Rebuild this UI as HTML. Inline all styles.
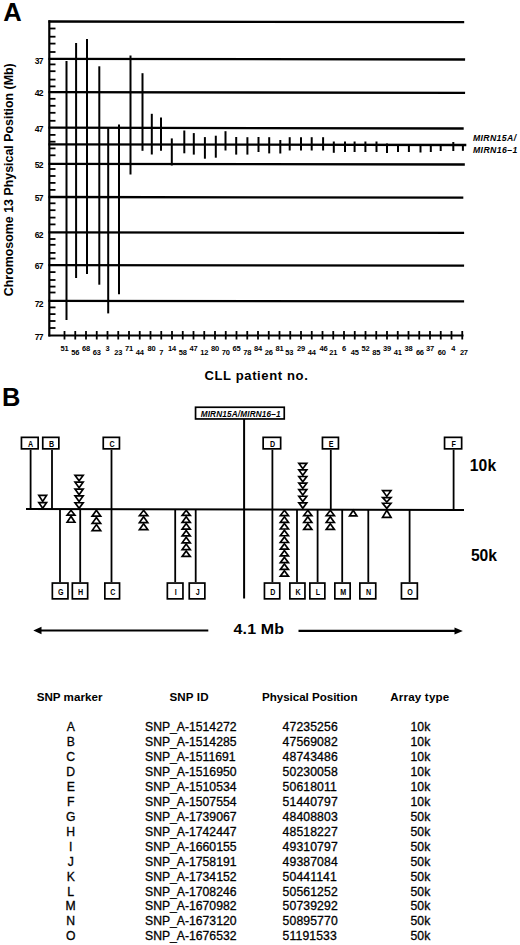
<!DOCTYPE html>
<html><head><meta charset="utf-8"><title>Figure</title>
<style>
html,body{margin:0;padding:0;background:#fff;}
body{width:520px;height:945px;overflow:hidden;}
svg{display:block;font-family:"Liberation Sans",sans-serif;}
.rt{stroke:#000;stroke-width:0.3px;}
</style></head>
<body>
<svg width="520" height="945" viewBox="0 0 520 945" fill="#000" stroke="#000">
<g stroke="none">
</g>
<g>
<text stroke="none" x="3.2" y="20.65" font-size="25.57" font-weight="bold" font-style="normal" letter-spacing="0" >A</text>
<line x1="48.5" y1="21.5" x2="464.2" y2="22.2" stroke-width="2.3"/>
<line x1="48.5" y1="58.9" x2="465.1" y2="59.5" stroke-width="2.3"/>
<line x1="48.5" y1="92.2" x2="465.1" y2="92.8" stroke-width="2.3"/>
<line x1="48.5" y1="127.7" x2="463.7" y2="128.5" stroke-width="2.3"/>
<line x1="48.5" y1="144.4" x2="466.3" y2="145.0" stroke-width="2.3"/>
<line x1="48.5" y1="163.8" x2="464.8" y2="164.5" stroke-width="2.3"/>
<line x1="48.5" y1="197.0" x2="463.3" y2="197.6" stroke-width="2.3"/>
<line x1="48.5" y1="232.3" x2="464.1" y2="232.8" stroke-width="2.3"/>
<line x1="48.5" y1="265.1" x2="464.1" y2="265.7" stroke-width="2.3"/>
<line x1="48.5" y1="300.8" x2="464.1" y2="301.3" stroke-width="2.3"/>
<line x1="49.3" y1="20.2" x2="49.3" y2="336.5" stroke-width="2.2"/>
<line x1="48.5" y1="335.5" x2="463.5" y2="335.5" stroke-width="2.2"/>
<line x1="49.3" y1="28.5" x2="55.5" y2="28.5" stroke-width="1.8"/>
<line x1="49.3" y1="36.7" x2="55.5" y2="36.7" stroke-width="1.8"/>
<line x1="49.3" y1="43.6" x2="55.5" y2="43.6" stroke-width="1.8"/>
<line x1="49.3" y1="52.0" x2="55.5" y2="52.0" stroke-width="1.8"/>
<line x1="49.3" y1="64.4" x2="55.5" y2="64.4" stroke-width="1.8"/>
<line x1="49.3" y1="71.2" x2="55.5" y2="71.2" stroke-width="1.8"/>
<line x1="49.3" y1="79.6" x2="55.5" y2="79.6" stroke-width="1.8"/>
<line x1="49.3" y1="86.4" x2="55.5" y2="86.4" stroke-width="1.8"/>
<line x1="49.3" y1="98.8" x2="55.5" y2="98.8" stroke-width="1.8"/>
<line x1="49.3" y1="105.8" x2="55.5" y2="105.8" stroke-width="1.8"/>
<line x1="49.3" y1="112.8" x2="55.5" y2="112.8" stroke-width="1.8"/>
<line x1="49.3" y1="120.8" x2="55.5" y2="120.8" stroke-width="1.8"/>
<line x1="49.3" y1="134.9" x2="55.5" y2="134.9" stroke-width="1.8"/>
<line x1="49.3" y1="141.7" x2="55.5" y2="141.7" stroke-width="1.8"/>
<line x1="49.3" y1="148.4" x2="55.5" y2="148.4" stroke-width="1.8"/>
<line x1="49.3" y1="155.3" x2="55.5" y2="155.3" stroke-width="1.8"/>
<line x1="49.3" y1="169.0" x2="55.5" y2="169.0" stroke-width="1.8"/>
<line x1="49.3" y1="176.0" x2="55.5" y2="176.0" stroke-width="1.8"/>
<line x1="49.3" y1="182.9" x2="55.5" y2="182.9" stroke-width="1.8"/>
<line x1="49.3" y1="189.9" x2="55.5" y2="189.9" stroke-width="1.8"/>
<line x1="49.3" y1="203.3" x2="55.5" y2="203.3" stroke-width="1.8"/>
<line x1="49.3" y1="210.2" x2="55.5" y2="210.2" stroke-width="1.8"/>
<line x1="49.3" y1="217.6" x2="55.5" y2="217.6" stroke-width="1.8"/>
<line x1="49.3" y1="224.4" x2="55.5" y2="224.4" stroke-width="1.8"/>
<line x1="49.3" y1="239.0" x2="55.5" y2="239.0" stroke-width="1.8"/>
<line x1="49.3" y1="244.8" x2="55.5" y2="244.8" stroke-width="1.8"/>
<line x1="49.3" y1="252.9" x2="55.5" y2="252.9" stroke-width="1.8"/>
<line x1="49.3" y1="258.5" x2="55.5" y2="258.5" stroke-width="1.8"/>
<line x1="49.3" y1="272.1" x2="55.5" y2="272.1" stroke-width="1.8"/>
<line x1="49.3" y1="280.0" x2="55.5" y2="280.0" stroke-width="1.8"/>
<line x1="49.3" y1="286.6" x2="55.5" y2="286.6" stroke-width="1.8"/>
<line x1="49.3" y1="292.5" x2="55.5" y2="292.5" stroke-width="1.8"/>
<line x1="49.3" y1="307.4" x2="55.5" y2="307.4" stroke-width="1.8"/>
<line x1="49.3" y1="314.1" x2="55.5" y2="314.1" stroke-width="1.8"/>
<line x1="49.3" y1="321.0" x2="55.5" y2="321.0" stroke-width="1.8"/>
<line x1="49.3" y1="328.0" x2="55.5" y2="328.0" stroke-width="1.8"/>
<text stroke="none" x="34.7" y="63.9" font-size="8.5" font-weight="bold" font-style="normal" letter-spacing="-0.75" >37</text>
<text stroke="none" x="34.7" y="95.95" font-size="8.5" font-weight="bold" font-style="normal" letter-spacing="-0.75" >42</text>
<text stroke="none" x="34.7" y="131.8" font-size="8.5" font-weight="bold" font-style="normal" letter-spacing="-0.75" >47</text>
<text stroke="none" x="34.7" y="167.7" font-size="8.5" font-weight="bold" font-style="normal" letter-spacing="-0.75" >52</text>
<text stroke="none" x="34.7" y="200.8" font-size="8.5" font-weight="bold" font-style="normal" letter-spacing="-0.75" >57</text>
<text stroke="none" x="34.7" y="238.1" font-size="8.5" font-weight="bold" font-style="normal" letter-spacing="-0.75" >62</text>
<text stroke="none" x="34.7" y="269.1" font-size="8.5" font-weight="bold" font-style="normal" letter-spacing="-0.75" >67</text>
<text stroke="none" x="34.7" y="307.0" font-size="8.5" font-weight="bold" font-style="normal" letter-spacing="-0.75" >72</text>
<text stroke="none" x="34.7" y="339.7" font-size="8.5" font-weight="bold" font-style="normal" letter-spacing="-0.75" >77</text>
<text stroke="none" x="-1.0" y="8.9" font-size="12.42" font-weight="bold" font-style="normal" letter-spacing="-0.002" transform="translate(3.8,295.2) rotate(-90)">Chromosome 13 Physical Position (Mb)</text>
<line x1="64.5" y1="331" x2="64.5" y2="339.5" stroke-width="1.8"/>
<text stroke="none" x="64.5" y="350.8" font-size="7.5" font-weight="bold" text-anchor="middle" font-style="normal" letter-spacing="-0.25">51</text>
<line x1="75.25" y1="331" x2="75.25" y2="339.5" stroke-width="1.8"/>
<text stroke="none" x="75.25" y="354.8" font-size="7.5" font-weight="bold" text-anchor="middle" font-style="normal" letter-spacing="-0.25">56</text>
<line x1="86.0" y1="331" x2="86.0" y2="339.5" stroke-width="1.8"/>
<text stroke="none" x="86.0" y="350.8" font-size="7.5" font-weight="bold" text-anchor="middle" font-style="normal" letter-spacing="-0.25">68</text>
<line x1="96.75" y1="331" x2="96.75" y2="339.5" stroke-width="1.8"/>
<text stroke="none" x="96.75" y="354.8" font-size="7.5" font-weight="bold" text-anchor="middle" font-style="normal" letter-spacing="-0.25">63</text>
<line x1="107.5" y1="331" x2="107.5" y2="339.5" stroke-width="1.8"/>
<text stroke="none" x="107.5" y="350.8" font-size="7.5" font-weight="bold" text-anchor="middle" font-style="normal" letter-spacing="-0.25">3</text>
<line x1="118.25" y1="331" x2="118.25" y2="339.5" stroke-width="1.8"/>
<text stroke="none" x="118.25" y="354.8" font-size="7.5" font-weight="bold" text-anchor="middle" font-style="normal" letter-spacing="-0.25">23</text>
<line x1="129.0" y1="331" x2="129.0" y2="339.5" stroke-width="1.8"/>
<text stroke="none" x="129.0" y="350.8" font-size="7.5" font-weight="bold" text-anchor="middle" font-style="normal" letter-spacing="-0.25">71</text>
<line x1="139.75" y1="331" x2="139.75" y2="339.5" stroke-width="1.8"/>
<text stroke="none" x="139.75" y="354.8" font-size="7.5" font-weight="bold" text-anchor="middle" font-style="normal" letter-spacing="-0.25">44</text>
<line x1="150.5" y1="331" x2="150.5" y2="339.5" stroke-width="1.8"/>
<text stroke="none" x="151.4" y="350.8" font-size="7.5" font-weight="bold" text-anchor="middle" font-style="normal" letter-spacing="-0.25">80</text>
<line x1="161.25" y1="331" x2="161.25" y2="339.5" stroke-width="1.8"/>
<text stroke="none" x="161.25" y="354.8" font-size="7.5" font-weight="bold" text-anchor="middle" font-style="normal" letter-spacing="-0.25">7</text>
<line x1="172.0" y1="331" x2="172.0" y2="339.5" stroke-width="1.8"/>
<text stroke="none" x="172.0" y="350.8" font-size="7.5" font-weight="bold" text-anchor="middle" font-style="normal" letter-spacing="-0.25">14</text>
<line x1="182.75" y1="331" x2="182.75" y2="339.5" stroke-width="1.8"/>
<text stroke="none" x="182.75" y="354.8" font-size="7.5" font-weight="bold" text-anchor="middle" font-style="normal" letter-spacing="-0.25">58</text>
<line x1="193.5" y1="331" x2="193.5" y2="339.5" stroke-width="1.8"/>
<text stroke="none" x="193.5" y="350.8" font-size="7.5" font-weight="bold" text-anchor="middle" font-style="normal" letter-spacing="-0.25">47</text>
<line x1="204.25" y1="331" x2="204.25" y2="339.5" stroke-width="1.8"/>
<text stroke="none" x="204.25" y="354.8" font-size="7.5" font-weight="bold" text-anchor="middle" font-style="normal" letter-spacing="-0.25">12</text>
<line x1="215.0" y1="331" x2="215.0" y2="339.5" stroke-width="1.8"/>
<text stroke="none" x="215.0" y="350.8" font-size="7.5" font-weight="bold" text-anchor="middle" font-style="normal" letter-spacing="-0.25">80</text>
<line x1="225.75" y1="331" x2="225.75" y2="339.5" stroke-width="1.8"/>
<text stroke="none" x="225.75" y="354.8" font-size="7.5" font-weight="bold" text-anchor="middle" font-style="normal" letter-spacing="-0.25">70</text>
<line x1="236.5" y1="331" x2="236.5" y2="339.5" stroke-width="1.8"/>
<text stroke="none" x="236.5" y="350.8" font-size="7.5" font-weight="bold" text-anchor="middle" font-style="normal" letter-spacing="-0.25">65</text>
<line x1="247.25" y1="331" x2="247.25" y2="339.5" stroke-width="1.8"/>
<text stroke="none" x="247.25" y="354.8" font-size="7.5" font-weight="bold" text-anchor="middle" font-style="normal" letter-spacing="-0.25">78</text>
<line x1="258.0" y1="331" x2="258.0" y2="339.5" stroke-width="1.8"/>
<text stroke="none" x="258.0" y="350.8" font-size="7.5" font-weight="bold" text-anchor="middle" font-style="normal" letter-spacing="-0.25">84</text>
<line x1="268.75" y1="331" x2="268.75" y2="339.5" stroke-width="1.8"/>
<text stroke="none" x="268.75" y="354.8" font-size="7.5" font-weight="bold" text-anchor="middle" font-style="normal" letter-spacing="-0.25">26</text>
<line x1="279.5" y1="331" x2="279.5" y2="339.5" stroke-width="1.8"/>
<text stroke="none" x="279.5" y="350.8" font-size="7.5" font-weight="bold" text-anchor="middle" font-style="normal" letter-spacing="-0.25">81</text>
<line x1="290.25" y1="331" x2="290.25" y2="339.5" stroke-width="1.8"/>
<text stroke="none" x="289.25" y="354.8" font-size="7.5" font-weight="bold" text-anchor="middle" font-style="normal" letter-spacing="-0.25">53</text>
<line x1="301.0" y1="331" x2="301.0" y2="339.5" stroke-width="1.8"/>
<text stroke="none" x="301.0" y="350.8" font-size="7.5" font-weight="bold" text-anchor="middle" font-style="normal" letter-spacing="-0.25">29</text>
<line x1="311.75" y1="331" x2="311.75" y2="339.5" stroke-width="1.8"/>
<text stroke="none" x="311.75" y="354.8" font-size="7.5" font-weight="bold" text-anchor="middle" font-style="normal" letter-spacing="-0.25">44</text>
<line x1="322.5" y1="331" x2="322.5" y2="339.5" stroke-width="1.8"/>
<text stroke="none" x="323.4" y="350.8" font-size="7.5" font-weight="bold" text-anchor="middle" font-style="normal" letter-spacing="-0.25">46</text>
<line x1="333.25" y1="331" x2="333.25" y2="339.5" stroke-width="1.8"/>
<text stroke="none" x="333.25" y="354.8" font-size="7.5" font-weight="bold" text-anchor="middle" font-style="normal" letter-spacing="-0.25">21</text>
<line x1="344.0" y1="331" x2="344.0" y2="339.5" stroke-width="1.8"/>
<text stroke="none" x="344.0" y="350.8" font-size="7.5" font-weight="bold" text-anchor="middle" font-style="normal" letter-spacing="-0.25">6</text>
<line x1="354.75" y1="331" x2="354.75" y2="339.5" stroke-width="1.8"/>
<text stroke="none" x="354.75" y="354.8" font-size="7.5" font-weight="bold" text-anchor="middle" font-style="normal" letter-spacing="-0.25">45</text>
<line x1="365.5" y1="331" x2="365.5" y2="339.5" stroke-width="1.8"/>
<text stroke="none" x="365.5" y="350.8" font-size="7.5" font-weight="bold" text-anchor="middle" font-style="normal" letter-spacing="-0.25">52</text>
<line x1="376.25" y1="331" x2="376.25" y2="339.5" stroke-width="1.8"/>
<text stroke="none" x="376.25" y="354.8" font-size="7.5" font-weight="bold" text-anchor="middle" font-style="normal" letter-spacing="-0.25">85</text>
<line x1="387.0" y1="331" x2="387.0" y2="339.5" stroke-width="1.8"/>
<text stroke="none" x="387.0" y="350.8" font-size="7.5" font-weight="bold" text-anchor="middle" font-style="normal" letter-spacing="-0.25">39</text>
<line x1="397.75" y1="331" x2="397.75" y2="339.5" stroke-width="1.8"/>
<text stroke="none" x="397.75" y="354.8" font-size="7.5" font-weight="bold" text-anchor="middle" font-style="normal" letter-spacing="-0.25">41</text>
<line x1="408.5" y1="331" x2="408.5" y2="339.5" stroke-width="1.8"/>
<text stroke="none" x="408.5" y="350.8" font-size="7.5" font-weight="bold" text-anchor="middle" font-style="normal" letter-spacing="-0.25">38</text>
<line x1="419.25" y1="331" x2="419.25" y2="339.5" stroke-width="1.8"/>
<text stroke="none" x="419.85" y="354.8" font-size="7.5" font-weight="bold" text-anchor="middle" font-style="normal" letter-spacing="-0.25">66</text>
<line x1="430.0" y1="331" x2="430.0" y2="339.5" stroke-width="1.8"/>
<text stroke="none" x="430.0" y="350.8" font-size="7.5" font-weight="bold" text-anchor="middle" font-style="normal" letter-spacing="-0.25">37</text>
<line x1="440.75" y1="331" x2="440.75" y2="339.5" stroke-width="1.8"/>
<text stroke="none" x="441.75" y="354.8" font-size="7.5" font-weight="bold" text-anchor="middle" font-style="normal" letter-spacing="-0.25">60</text>
<line x1="451.5" y1="331" x2="451.5" y2="339.5" stroke-width="1.8"/>
<text stroke="none" x="453.3" y="350.8" font-size="7.5" font-weight="bold" text-anchor="middle" font-style="normal" letter-spacing="-0.25">4</text>
<line x1="462.25" y1="331" x2="462.25" y2="339.5" stroke-width="1.8"/>
<text stroke="none" x="463.85" y="354.8" font-size="7.5" font-weight="bold" text-anchor="middle" font-style="normal" letter-spacing="-0.25">27</text>
<line x1="66.5" y1="61.0" x2="66.5" y2="320.0" stroke-width="2"/>
<line x1="76.1" y1="43.0" x2="76.1" y2="278.0" stroke-width="2"/>
<line x1="87.0" y1="39.0" x2="87.0" y2="274.0" stroke-width="2"/>
<line x1="99.3" y1="66.3" x2="99.3" y2="284.7" stroke-width="2"/>
<line x1="108.2" y1="128.2" x2="108.2" y2="313.4" stroke-width="2"/>
<line x1="119.0" y1="124.5" x2="119.0" y2="294.3" stroke-width="2"/>
<line x1="130.5" y1="55.5" x2="130.5" y2="174.5" stroke-width="2"/>
<line x1="142.5" y1="73.2" x2="142.5" y2="150.8" stroke-width="2"/>
<line x1="151.8" y1="113.8" x2="151.8" y2="154.5" stroke-width="2"/>
<line x1="161.0" y1="117.5" x2="161.0" y2="150.8" stroke-width="2"/>
<line x1="171.8" y1="138.4" x2="171.8" y2="165.5" stroke-width="2"/>
<line x1="184.3" y1="130.5" x2="184.3" y2="153.3" stroke-width="2"/>
<line x1="193.8" y1="133.1" x2="193.8" y2="154.6" stroke-width="2"/>
<line x1="204.9" y1="137.1" x2="204.9" y2="158.7" stroke-width="2"/>
<line x1="215.8" y1="135.7" x2="215.8" y2="157.7" stroke-width="2"/>
<line x1="225.5" y1="131.2" x2="225.5" y2="150.5" stroke-width="2"/>
<line x1="236.2" y1="137.0" x2="236.2" y2="154.6" stroke-width="2"/>
<line x1="247.4" y1="137.2" x2="247.4" y2="154.6" stroke-width="2"/>
<line x1="258.5" y1="137.0" x2="258.5" y2="152.0" stroke-width="2"/>
<line x1="269.2" y1="137.2" x2="269.2" y2="153.4" stroke-width="2"/>
<line x1="280.3" y1="140.0" x2="280.3" y2="153.5" stroke-width="2"/>
<line x1="289.7" y1="137.2" x2="289.7" y2="150.5" stroke-width="2"/>
<line x1="301.0" y1="137.2" x2="301.0" y2="150.5" stroke-width="2"/>
<line x1="311.7" y1="137.2" x2="311.7" y2="150.5" stroke-width="2"/>
<line x1="323.1" y1="137.2" x2="323.1" y2="150.5" stroke-width="2"/>
<line x1="333.8" y1="141.5" x2="333.8" y2="152.8" stroke-width="2"/>
<line x1="345.0" y1="141.5" x2="345.0" y2="152.0" stroke-width="2"/>
<line x1="354.6" y1="141.5" x2="354.6" y2="152.0" stroke-width="2"/>
<line x1="365.4" y1="141.5" x2="365.4" y2="152.0" stroke-width="2"/>
<line x1="376.5" y1="141.5" x2="376.5" y2="152.0" stroke-width="2"/>
<line x1="387.0" y1="143.5" x2="387.0" y2="153.0" stroke-width="2"/>
<line x1="398.0" y1="144.2" x2="398.0" y2="152.0" stroke-width="2"/>
<line x1="408.9" y1="144.2" x2="408.9" y2="152.0" stroke-width="2"/>
<line x1="420.5" y1="144.2" x2="420.5" y2="152.5" stroke-width="2"/>
<line x1="430.8" y1="144.2" x2="430.8" y2="152.0" stroke-width="2"/>
<line x1="440.7" y1="144.2" x2="440.7" y2="151.0" stroke-width="2"/>
<line x1="453.3" y1="142.0" x2="453.3" y2="151.0" stroke-width="2"/>
<line x1="462.9" y1="144.5" x2="462.9" y2="150.8" stroke-width="2"/>
<text stroke="none" x="472.9" y="141.4" font-size="8.7" font-weight="bold" font-style="italic" letter-spacing="0.372" >MIRN15A/</text>
<text stroke="none" x="472.9" y="153.2" font-size="8.7" font-weight="bold" font-style="italic" letter-spacing="0.429" >MIRN16–1</text>
<text stroke="none" x="204.5" y="379.7" font-size="13.05" font-weight="bold" font-style="normal" letter-spacing="0.614" >CLL patient no.</text>
<text stroke="none" x="2.0" y="406.4" font-size="25.43" font-weight="bold" font-style="normal" letter-spacing="0" >B</text>
<line x1="26" y1="509.0" x2="464" y2="510.0" stroke-width="2.1"/>
<line x1="244.1" y1="419" x2="244.1" y2="598.5" stroke-width="2"/>
<rect x="195.55" y="407.25" width="88.7" height="11.7" fill="none" stroke-width="1.7"/>
<text stroke="none" x="200.7" y="416.55" font-size="8.2" font-weight="bold" font-style="italic" letter-spacing="0.167" >MIRN15A/MIRN16–1</text>
<line x1="30.6" y1="449.7" x2="30.6" y2="509.3" stroke-width="1.8"/>
<line x1="52.0" y1="449.7" x2="52.0" y2="509.3" stroke-width="1.8"/>
<line x1="111.5" y1="449.7" x2="111.5" y2="509.3" stroke-width="1.8"/>
<line x1="272.4" y1="449.7" x2="272.4" y2="509.3" stroke-width="1.8"/>
<line x1="330.8" y1="449.7" x2="330.8" y2="509.3" stroke-width="1.8"/>
<line x1="453.6" y1="449.7" x2="453.6" y2="509.3" stroke-width="1.8"/>
<rect x="21.450000000000003" y="437.35" width="16.7" height="11.5" fill="white" stroke-width="1.7"/>
<text stroke="none" stroke="none" transform="translate(30.50,444.40) scale(0.86,1)" x="0" y="2.86" font-size="8.3" font-weight="bold" text-anchor="middle">A</text>
<rect x="42.75" y="437.35" width="16.1" height="11.5" fill="white" stroke-width="1.7"/>
<text stroke="none" stroke="none" transform="translate(51.50,444.40) scale(0.86,1)" x="0" y="2.86" font-size="8.3" font-weight="bold" text-anchor="middle">B</text>
<rect x="103.25" y="437.35" width="16.2" height="11.5" fill="white" stroke-width="1.7"/>
<text stroke="none" stroke="none" transform="translate(112.05,444.40) scale(0.86,1)" x="0" y="2.86" font-size="8.3" font-weight="bold" text-anchor="middle">C</text>
<rect x="263.15000000000003" y="437.35" width="17.5" height="11.5" fill="white" stroke-width="1.7"/>
<text stroke="none" stroke="none" transform="translate(272.60,444.40) scale(0.86,1)" x="0" y="2.86" font-size="8.3" font-weight="bold" text-anchor="middle">D</text>
<rect x="322.45000000000005" y="437.35" width="16.0" height="11.5" fill="white" stroke-width="1.7"/>
<text stroke="none" stroke="none" transform="translate(331.15,444.40) scale(0.86,1)" x="0" y="2.86" font-size="8.3" font-weight="bold" text-anchor="middle">E</text>
<rect x="444.55" y="437.35" width="17.1" height="11.5" fill="white" stroke-width="1.7"/>
<text stroke="none" stroke="none" transform="translate(453.80,444.40) scale(0.86,1)" x="0" y="2.86" font-size="8.3" font-weight="bold" text-anchor="middle">F</text>
<line x1="60.0" y1="509.3" x2="60.0" y2="582.2" stroke-width="1.8"/>
<line x1="80.2" y1="509.3" x2="80.2" y2="582.2" stroke-width="1.8"/>
<line x1="111.5" y1="509.3" x2="111.5" y2="582.2" stroke-width="1.8"/>
<line x1="175.2" y1="509.3" x2="175.2" y2="582.2" stroke-width="1.8"/>
<line x1="195.7" y1="509.3" x2="195.7" y2="582.2" stroke-width="1.8"/>
<line x1="272.4" y1="509.3" x2="272.4" y2="582.2" stroke-width="1.8"/>
<line x1="297.0" y1="509.3" x2="297.0" y2="582.2" stroke-width="1.8"/>
<line x1="317.6" y1="509.3" x2="317.6" y2="582.2" stroke-width="1.8"/>
<line x1="342.2" y1="509.3" x2="342.2" y2="582.2" stroke-width="1.8"/>
<line x1="368.3" y1="509.3" x2="368.3" y2="582.2" stroke-width="1.8"/>
<line x1="409.6" y1="509.3" x2="409.6" y2="582.2" stroke-width="1.8"/>
<rect x="52.35" y="583.0500000000001" width="15.6" height="15.8" fill="white" stroke-width="1.7"/>
<text stroke="none" stroke="none" transform="translate(60.85,592.25) scale(0.86,1)" x="0" y="2.86" font-size="8.3" font-weight="bold" text-anchor="middle">G</text>
<rect x="72.35" y="583.0500000000001" width="15.3" height="15.8" fill="white" stroke-width="1.7"/>
<text stroke="none" stroke="none" transform="translate(80.70,592.25) scale(0.86,1)" x="0" y="2.86" font-size="8.3" font-weight="bold" text-anchor="middle">H</text>
<rect x="104.85" y="583.0500000000001" width="14.7" height="15.8" fill="white" stroke-width="1.7"/>
<text stroke="none" stroke="none" transform="translate(112.90,592.25) scale(0.86,1)" x="0" y="2.86" font-size="8.3" font-weight="bold" text-anchor="middle">C</text>
<rect x="167.35" y="583.0500000000001" width="15.6" height="15.8" fill="white" stroke-width="1.7"/>
<text stroke="none" stroke="none" transform="translate(175.85,592.25) scale(0.86,1)" x="0" y="2.86" font-size="8.3" font-weight="bold" text-anchor="middle">I</text>
<rect x="189.25" y="583.0500000000001" width="15.6" height="15.8" fill="white" stroke-width="1.7"/>
<text stroke="none" stroke="none" transform="translate(197.75,592.25) scale(0.86,1)" x="0" y="2.86" font-size="8.3" font-weight="bold" text-anchor="middle">J</text>
<rect x="264.45000000000005" y="583.0500000000001" width="15.3" height="15.8" fill="white" stroke-width="1.7"/>
<text stroke="none" stroke="none" transform="translate(272.80,592.25) scale(0.86,1)" x="0" y="2.86" font-size="8.3" font-weight="bold" text-anchor="middle">D</text>
<rect x="289.85" y="583.0500000000001" width="15.1" height="15.8" fill="white" stroke-width="1.7"/>
<text stroke="none" stroke="none" transform="translate(298.10,592.25) scale(0.86,1)" x="0" y="2.86" font-size="8.3" font-weight="bold" text-anchor="middle">K</text>
<rect x="309.85" y="583.0500000000001" width="15.0" height="15.8" fill="white" stroke-width="1.7"/>
<text stroke="none" stroke="none" transform="translate(318.05,592.25) scale(0.86,1)" x="0" y="2.86" font-size="8.3" font-weight="bold" text-anchor="middle">L</text>
<rect x="334.85" y="583.0500000000001" width="15.3" height="15.8" fill="white" stroke-width="1.7"/>
<text stroke="none" stroke="none" transform="translate(343.20,592.25) scale(0.86,1)" x="0" y="2.86" font-size="8.3" font-weight="bold" text-anchor="middle">M</text>
<rect x="359.85" y="583.0500000000001" width="15.9" height="15.8" fill="white" stroke-width="1.7"/>
<text stroke="none" stroke="none" transform="translate(368.50,592.25) scale(0.86,1)" x="0" y="2.86" font-size="8.3" font-weight="bold" text-anchor="middle">N</text>
<rect x="401.45000000000005" y="583.0500000000001" width="15.9" height="15.8" fill="white" stroke-width="1.7"/>
<text stroke="none" stroke="none" transform="translate(410.10,592.25) scale(0.86,1)" x="0" y="2.86" font-size="8.3" font-weight="bold" text-anchor="middle">O</text>
<polygon points="38.85,495.45 46.55,495.45 42.70,501.38" fill="white" stroke-width="1.7" stroke-linejoin="miter" stroke-miterlimit="3"/>
<polygon points="38.85,502.65 46.55,502.65 42.70,508.29" fill="white" stroke-width="1.7" stroke-linejoin="miter" stroke-miterlimit="3"/>
<polygon points="75.05,475.45 83.15,475.45 79.10,480.88" fill="white" stroke-width="1.7" stroke-linejoin="miter" stroke-miterlimit="3"/>
<polygon points="75.05,482.15 83.15,482.15 79.10,487.78" fill="white" stroke-width="1.7" stroke-linejoin="miter" stroke-miterlimit="3"/>
<polygon points="75.05,489.05 83.15,489.05 79.10,494.69" fill="white" stroke-width="1.7" stroke-linejoin="miter" stroke-miterlimit="3"/>
<polygon points="75.05,495.95 83.15,495.95 79.10,501.48" fill="white" stroke-width="1.7" stroke-linejoin="miter" stroke-miterlimit="3"/>
<polygon points="75.05,502.75 83.15,502.75 79.10,508.29" fill="white" stroke-width="1.7" stroke-linejoin="miter" stroke-miterlimit="3"/>
<polygon points="298.85,463.35 306.75,463.35 302.80,468.67" fill="white" stroke-width="1.7" stroke-linejoin="miter" stroke-miterlimit="3"/>
<polygon points="298.85,469.93 306.75,469.93 302.80,475.25" fill="white" stroke-width="1.7" stroke-linejoin="miter" stroke-miterlimit="3"/>
<polygon points="298.85,476.52 306.75,476.52 302.80,481.83" fill="white" stroke-width="1.7" stroke-linejoin="miter" stroke-miterlimit="3"/>
<polygon points="298.85,483.10 306.75,483.10 302.80,488.42" fill="white" stroke-width="1.7" stroke-linejoin="miter" stroke-miterlimit="3"/>
<polygon points="298.85,489.68 306.75,489.68 302.80,495.00" fill="white" stroke-width="1.7" stroke-linejoin="miter" stroke-miterlimit="3"/>
<polygon points="298.85,496.27 306.75,496.27 302.80,501.58" fill="white" stroke-width="1.7" stroke-linejoin="miter" stroke-miterlimit="3"/>
<polygon points="298.85,502.85 306.75,502.85 302.80,508.29" fill="white" stroke-width="1.7" stroke-linejoin="miter" stroke-miterlimit="3"/>
<polygon points="382.65,490.65 390.95,490.65 386.80,496.38" fill="white" stroke-width="1.7" stroke-linejoin="miter" stroke-miterlimit="3"/>
<polygon points="382.65,497.65 390.95,497.65 386.80,501.98" fill="white" stroke-width="1.7" stroke-linejoin="miter" stroke-miterlimit="3"/>
<polygon points="382.65,503.25 390.95,503.25 386.80,508.29" fill="white" stroke-width="1.7" stroke-linejoin="miter" stroke-miterlimit="3"/>
<polygon points="71.00,516.31 74.85,522.25 67.15,522.25" fill="white" stroke-width="1.7" stroke-linejoin="miter" stroke-miterlimit="3"/>
<polygon points="71.00,510.31 74.85,515.05 67.15,515.05" fill="white" stroke-width="1.7" stroke-linejoin="miter" stroke-miterlimit="3"/>
<polygon points="96.40,524.62 100.65,530.55 92.15,530.55" fill="white" stroke-width="1.7" stroke-linejoin="miter" stroke-miterlimit="3"/>
<polygon points="96.40,517.41 100.65,523.35 92.15,523.35" fill="white" stroke-width="1.7" stroke-linejoin="miter" stroke-miterlimit="3"/>
<polygon points="96.40,510.31 100.65,516.15 92.15,516.15" fill="white" stroke-width="1.7" stroke-linejoin="miter" stroke-miterlimit="3"/>
<polygon points="143.60,523.81 147.75,529.55 139.45,529.55" fill="white" stroke-width="1.7" stroke-linejoin="miter" stroke-miterlimit="3"/>
<polygon points="143.60,516.81 147.75,522.55 139.45,522.55" fill="white" stroke-width="1.7" stroke-linejoin="miter" stroke-miterlimit="3"/>
<polygon points="143.60,510.31 147.75,515.55 139.45,515.55" fill="white" stroke-width="1.7" stroke-linejoin="miter" stroke-miterlimit="3"/>
<polygon points="186.20,550.88 190.25,556.45 182.15,556.45" fill="white" stroke-width="1.7" stroke-linejoin="miter" stroke-miterlimit="3"/>
<polygon points="186.20,544.05 190.25,549.62 182.15,549.62" fill="white" stroke-width="1.7" stroke-linejoin="miter" stroke-miterlimit="3"/>
<polygon points="186.20,537.21 190.25,542.78 182.15,542.78" fill="white" stroke-width="1.7" stroke-linejoin="miter" stroke-miterlimit="3"/>
<polygon points="186.20,530.38 190.25,535.95 182.15,535.95" fill="white" stroke-width="1.7" stroke-linejoin="miter" stroke-miterlimit="3"/>
<polygon points="186.20,523.55 190.25,529.12 182.15,529.12" fill="white" stroke-width="1.7" stroke-linejoin="miter" stroke-miterlimit="3"/>
<polygon points="186.20,516.71 190.25,522.28 182.15,522.28" fill="white" stroke-width="1.7" stroke-linejoin="miter" stroke-miterlimit="3"/>
<polygon points="186.20,510.31 190.25,515.45 182.15,515.45" fill="white" stroke-width="1.7" stroke-linejoin="miter" stroke-miterlimit="3"/>
<polygon points="284.40,570.68 288.45,576.15 280.35,576.15" fill="white" stroke-width="1.7" stroke-linejoin="miter" stroke-miterlimit="3"/>
<polygon points="284.40,563.95 288.45,569.42 280.35,569.42" fill="white" stroke-width="1.7" stroke-linejoin="miter" stroke-miterlimit="3"/>
<polygon points="284.40,557.21 288.45,562.68 280.35,562.68" fill="white" stroke-width="1.7" stroke-linejoin="miter" stroke-miterlimit="3"/>
<polygon points="284.40,550.48 288.45,555.95 280.35,555.95" fill="white" stroke-width="1.7" stroke-linejoin="miter" stroke-miterlimit="3"/>
<polygon points="284.40,543.75 288.45,549.22 280.35,549.22" fill="white" stroke-width="1.7" stroke-linejoin="miter" stroke-miterlimit="3"/>
<polygon points="284.40,537.01 288.45,542.48 280.35,542.48" fill="white" stroke-width="1.7" stroke-linejoin="miter" stroke-miterlimit="3"/>
<polygon points="284.40,530.28 288.45,535.75 280.35,535.75" fill="white" stroke-width="1.7" stroke-linejoin="miter" stroke-miterlimit="3"/>
<polygon points="284.40,523.55 288.45,529.02 280.35,529.02" fill="white" stroke-width="1.7" stroke-linejoin="miter" stroke-miterlimit="3"/>
<polygon points="284.40,516.81 288.45,522.28 280.35,522.28" fill="white" stroke-width="1.7" stroke-linejoin="miter" stroke-miterlimit="3"/>
<polygon points="284.40,510.31 288.45,515.55 280.35,515.55" fill="white" stroke-width="1.7" stroke-linejoin="miter" stroke-miterlimit="3"/>
<polygon points="307.80,523.76 311.85,529.45 303.75,529.45" fill="white" stroke-width="1.7" stroke-linejoin="miter" stroke-miterlimit="3"/>
<polygon points="307.80,516.81 311.85,522.50 303.75,522.50" fill="white" stroke-width="1.7" stroke-linejoin="miter" stroke-miterlimit="3"/>
<polygon points="307.80,510.31 311.85,515.55 303.75,515.55" fill="white" stroke-width="1.7" stroke-linejoin="miter" stroke-miterlimit="3"/>
<polygon points="330.30,523.76 334.35,529.45 326.25,529.45" fill="white" stroke-width="1.7" stroke-linejoin="miter" stroke-miterlimit="3"/>
<polygon points="330.30,516.81 334.35,522.50 326.25,522.50" fill="white" stroke-width="1.7" stroke-linejoin="miter" stroke-miterlimit="3"/>
<polygon points="330.30,510.31 334.35,515.55 326.25,515.55" fill="white" stroke-width="1.7" stroke-linejoin="miter" stroke-miterlimit="3"/>
<polygon points="353.20,510.31 356.85,515.95 349.55,515.95" fill="white" stroke-width="1.7" stroke-linejoin="miter" stroke-miterlimit="3"/>
<polygon points="386.80,510.31 391.05,517.35 382.55,517.35" fill="white" stroke-width="1.7" stroke-linejoin="miter" stroke-miterlimit="3"/>
<text stroke="none" x="469.8" y="470.8" font-size="15.7" font-weight="bold" font-style="normal" letter-spacing="0.1" >10k</text>
<text stroke="none" x="470.9" y="561.0" font-size="15.7" font-weight="bold" font-style="normal" letter-spacing="0.0" >50k</text>
<line x1="40" y1="630.5" x2="208.3" y2="630.5" stroke-width="2.2"/>
<line x1="298.5" y1="630.8" x2="455" y2="630.8" stroke-width="2.2"/>
<polygon points="33.3,630.5 41.5,626.8 41.5,634.2" stroke="none"/>
<polygon points="462.8,631 454.5,627.5 454.5,634.5" stroke="none"/>
<text stroke="none" stroke="none" transform="translate(233.6,633.7) scale(1.12,1)" x="0" y="0" font-size="14.3" font-weight="bold" letter-spacing="0.1">4.1 Mb</text>
<text stroke="none" x="36.7" y="700.65" font-size="11.6" font-weight="bold" font-style="normal" letter-spacing="0.021" >SNP marker</text>
<text stroke="none" x="169.4" y="700.75" font-size="11.6" font-weight="bold" font-style="normal" letter-spacing="0.14" >SNP ID</text>
<text stroke="none" x="262.0" y="700.8" font-size="11.6" font-weight="bold" font-style="normal" letter-spacing="-0.031" >Physical Position</text>
<text stroke="none" x="390.3" y="700.8" font-size="11.6" font-weight="bold" font-style="normal" letter-spacing="0.177" >Array type</text>
<text stroke="none" x="70.7" y="731.2" font-size="12.2" font-weight="normal" text-anchor="middle" font-style="normal" class="rt">A</text>
<text stroke="none" x="145.0" y="731.2" font-size="12.2" font-weight="normal" text-anchor="start" font-style="normal" class="rt">SNP_A-1514272</text>
<text stroke="none" x="282.6" y="731.2" font-size="12.2" font-weight="normal" text-anchor="start" font-style="normal" class="rt" letter-spacing="0.12">47235256</text>
<text stroke="none" x="410.6" y="731.2" font-size="12.2" font-weight="normal" text-anchor="start" font-style="normal" class="rt">10k</text>
<text stroke="none" x="70.7" y="746.14" font-size="12.2" font-weight="normal" text-anchor="middle" font-style="normal" class="rt">B</text>
<text stroke="none" x="145.0" y="746.14" font-size="12.2" font-weight="normal" text-anchor="start" font-style="normal" class="rt">SNP_A-1514285</text>
<text stroke="none" x="282.6" y="746.14" font-size="12.2" font-weight="normal" text-anchor="start" font-style="normal" class="rt" letter-spacing="0.12">47569082</text>
<text stroke="none" x="410.6" y="746.14" font-size="12.2" font-weight="normal" text-anchor="start" font-style="normal" class="rt">10k</text>
<text stroke="none" x="70.7" y="761.08" font-size="12.2" font-weight="normal" text-anchor="middle" font-style="normal" class="rt">C</text>
<text stroke="none" x="145.0" y="761.08" font-size="12.2" font-weight="normal" text-anchor="start" font-style="normal" class="rt">SNP_A-1511691</text>
<text stroke="none" x="282.6" y="761.08" font-size="12.2" font-weight="normal" text-anchor="start" font-style="normal" class="rt" letter-spacing="0.12">48743486</text>
<text stroke="none" x="410.6" y="761.08" font-size="12.2" font-weight="normal" text-anchor="start" font-style="normal" class="rt">10k</text>
<text stroke="none" x="70.7" y="776.02" font-size="12.2" font-weight="normal" text-anchor="middle" font-style="normal" class="rt">D</text>
<text stroke="none" x="145.0" y="776.02" font-size="12.2" font-weight="normal" text-anchor="start" font-style="normal" class="rt">SNP_A-1516950</text>
<text stroke="none" x="282.6" y="776.02" font-size="12.2" font-weight="normal" text-anchor="start" font-style="normal" class="rt" letter-spacing="0.12">50230058</text>
<text stroke="none" x="410.6" y="776.02" font-size="12.2" font-weight="normal" text-anchor="start" font-style="normal" class="rt">10k</text>
<text stroke="none" x="70.7" y="790.96" font-size="12.2" font-weight="normal" text-anchor="middle" font-style="normal" class="rt">E</text>
<text stroke="none" x="145.0" y="790.96" font-size="12.2" font-weight="normal" text-anchor="start" font-style="normal" class="rt">SNP_A-1510534</text>
<text stroke="none" x="282.6" y="790.96" font-size="12.2" font-weight="normal" text-anchor="start" font-style="normal" class="rt" letter-spacing="0.12">50618011</text>
<text stroke="none" x="410.6" y="790.96" font-size="12.2" font-weight="normal" text-anchor="start" font-style="normal" class="rt">10k</text>
<text stroke="none" x="70.7" y="805.9" font-size="12.2" font-weight="normal" text-anchor="middle" font-style="normal" class="rt">F</text>
<text stroke="none" x="145.0" y="805.9" font-size="12.2" font-weight="normal" text-anchor="start" font-style="normal" class="rt">SNP_A-1507554</text>
<text stroke="none" x="282.6" y="805.9" font-size="12.2" font-weight="normal" text-anchor="start" font-style="normal" class="rt" letter-spacing="0.12">51440797</text>
<text stroke="none" x="410.6" y="805.9" font-size="12.2" font-weight="normal" text-anchor="start" font-style="normal" class="rt">10k</text>
<text stroke="none" x="70.7" y="820.84" font-size="12.2" font-weight="normal" text-anchor="middle" font-style="normal" class="rt">G</text>
<text stroke="none" x="145.0" y="820.84" font-size="12.2" font-weight="normal" text-anchor="start" font-style="normal" class="rt">SNP_A-1739067</text>
<text stroke="none" x="282.6" y="820.84" font-size="12.2" font-weight="normal" text-anchor="start" font-style="normal" class="rt" letter-spacing="0.12">48408803</text>
<text stroke="none" x="410.6" y="820.84" font-size="12.2" font-weight="normal" text-anchor="start" font-style="normal" class="rt">50k</text>
<text stroke="none" x="70.7" y="835.78" font-size="12.2" font-weight="normal" text-anchor="middle" font-style="normal" class="rt">H</text>
<text stroke="none" x="145.0" y="835.78" font-size="12.2" font-weight="normal" text-anchor="start" font-style="normal" class="rt">SNP_A-1742447</text>
<text stroke="none" x="282.6" y="835.78" font-size="12.2" font-weight="normal" text-anchor="start" font-style="normal" class="rt" letter-spacing="0.12">48518227</text>
<text stroke="none" x="410.6" y="835.78" font-size="12.2" font-weight="normal" text-anchor="start" font-style="normal" class="rt">50k</text>
<text stroke="none" x="70.7" y="850.72" font-size="12.2" font-weight="normal" text-anchor="middle" font-style="normal" class="rt">I</text>
<text stroke="none" x="145.0" y="850.72" font-size="12.2" font-weight="normal" text-anchor="start" font-style="normal" class="rt">SNP_A-1660155</text>
<text stroke="none" x="282.6" y="850.72" font-size="12.2" font-weight="normal" text-anchor="start" font-style="normal" class="rt" letter-spacing="0.12">49310797</text>
<text stroke="none" x="410.6" y="850.72" font-size="12.2" font-weight="normal" text-anchor="start" font-style="normal" class="rt">50k</text>
<text stroke="none" x="70.7" y="865.66" font-size="12.2" font-weight="normal" text-anchor="middle" font-style="normal" class="rt">J</text>
<text stroke="none" x="145.0" y="865.66" font-size="12.2" font-weight="normal" text-anchor="start" font-style="normal" class="rt">SNP_A-1758191</text>
<text stroke="none" x="282.6" y="865.66" font-size="12.2" font-weight="normal" text-anchor="start" font-style="normal" class="rt" letter-spacing="0.12">49387084</text>
<text stroke="none" x="410.6" y="865.66" font-size="12.2" font-weight="normal" text-anchor="start" font-style="normal" class="rt">50k</text>
<text stroke="none" x="70.7" y="880.6" font-size="12.2" font-weight="normal" text-anchor="middle" font-style="normal" class="rt">K</text>
<text stroke="none" x="145.0" y="880.6" font-size="12.2" font-weight="normal" text-anchor="start" font-style="normal" class="rt">SNP_A-1734152</text>
<text stroke="none" x="282.6" y="880.6" font-size="12.2" font-weight="normal" text-anchor="start" font-style="normal" class="rt" letter-spacing="0.12">50441141</text>
<text stroke="none" x="410.6" y="880.6" font-size="12.2" font-weight="normal" text-anchor="start" font-style="normal" class="rt">50k</text>
<text stroke="none" x="70.7" y="895.54" font-size="12.2" font-weight="normal" text-anchor="middle" font-style="normal" class="rt">L</text>
<text stroke="none" x="145.0" y="895.54" font-size="12.2" font-weight="normal" text-anchor="start" font-style="normal" class="rt">SNP_A-1708246</text>
<text stroke="none" x="282.6" y="895.54" font-size="12.2" font-weight="normal" text-anchor="start" font-style="normal" class="rt" letter-spacing="0.12">50561252</text>
<text stroke="none" x="410.6" y="895.54" font-size="12.2" font-weight="normal" text-anchor="start" font-style="normal" class="rt">50k</text>
<text stroke="none" x="70.7" y="910.48" font-size="12.2" font-weight="normal" text-anchor="middle" font-style="normal" class="rt">M</text>
<text stroke="none" x="145.0" y="910.48" font-size="12.2" font-weight="normal" text-anchor="start" font-style="normal" class="rt">SNP_A-1670982</text>
<text stroke="none" x="282.6" y="910.48" font-size="12.2" font-weight="normal" text-anchor="start" font-style="normal" class="rt" letter-spacing="0.12">50739292</text>
<text stroke="none" x="410.6" y="910.48" font-size="12.2" font-weight="normal" text-anchor="start" font-style="normal" class="rt">50k</text>
<text stroke="none" x="70.7" y="925.42" font-size="12.2" font-weight="normal" text-anchor="middle" font-style="normal" class="rt">N</text>
<text stroke="none" x="145.0" y="925.42" font-size="12.2" font-weight="normal" text-anchor="start" font-style="normal" class="rt">SNP_A-1673120</text>
<text stroke="none" x="282.6" y="925.42" font-size="12.2" font-weight="normal" text-anchor="start" font-style="normal" class="rt" letter-spacing="0.12">50895770</text>
<text stroke="none" x="410.6" y="925.42" font-size="12.2" font-weight="normal" text-anchor="start" font-style="normal" class="rt">50k</text>
<text stroke="none" x="70.7" y="940.36" font-size="12.2" font-weight="normal" text-anchor="middle" font-style="normal" class="rt">O</text>
<text stroke="none" x="145.0" y="940.36" font-size="12.2" font-weight="normal" text-anchor="start" font-style="normal" class="rt">SNP_A-1676532</text>
<text stroke="none" x="282.6" y="940.36" font-size="12.2" font-weight="normal" text-anchor="start" font-style="normal" class="rt" letter-spacing="0.12">51191533</text>
<text stroke="none" x="410.6" y="940.36" font-size="12.2" font-weight="normal" text-anchor="start" font-style="normal" class="rt">50k</text>
</g>
</svg>
</body></html>
